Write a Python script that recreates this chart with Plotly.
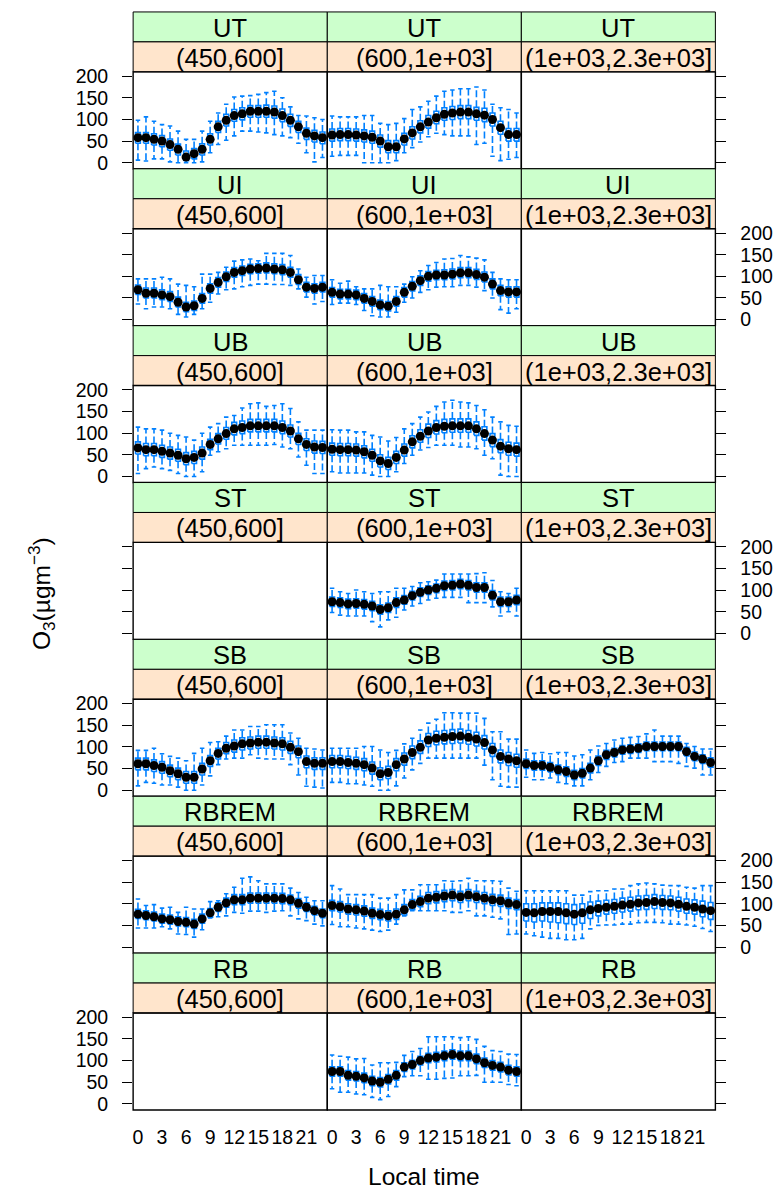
import plotly.graph_objects as go

W, H = 783, 1196

HOURS = list(range(24))
ROW_LABELS = ["UT", "UI", "UB", "ST", "SB", "RBREM", "RB"]
COL_LABELS = ["(450,600]", "(600,1e+03]", "(1e+03,2.3e+03]"]
XTICKS = [0, 3, 6, 9, 12, 15, 18, 21]
XTICK_TEXT = ["0", "3", "6", "9", "12", "15", "18", "21"]
YTICKS = [0, 50, 100, 150, 200]
YTICK_TEXT = ["0", "50", "100", "150", "200"]

# ---- UT ----
UT_450_lo = [6, 4, 9, 9, 2, 0, 0, 0, 2, 23, 42, 52, 62, 73, 73, 71, 69, 65, 62, 58, 45, 23, 2, 12]
UT_450_q1 = [45, 45, 41, 37, 29, 18, 5, 9, 18, 41, 70, 85, 96, 99, 105, 105, 105, 103, 95, 84, 70, 54, 48, 44]
UT_450_med = [58, 58, 54, 50, 42, 31, 13, 21, 31, 54, 83, 98, 109, 113, 119, 119, 119, 117, 109, 98, 83, 68, 62, 58]
UT_450_q3 = [70, 70, 67, 63, 55, 43, 27, 33, 44, 67, 96, 112, 123, 127, 132, 132, 133, 131, 124, 112, 96, 80, 75, 71]
UT_450_hi = [98, 106, 96, 88, 85, 73, 54, 54, 73, 96, 115, 135, 152, 154, 155, 158, 162, 165, 150, 129, 109, 108, 104, 100]

UT_600_lo = [15, 17, 17, 17, 0, 0, 0, 0, 5, 23, 35, 48, 60, 68, 65, 62, 62, 62, 42, 45, 15, 5, 8, 12]
UT_600_q1 = [50, 51, 51, 50, 48, 45, 36, 23, 23, 41, 55, 69, 80, 90, 98, 100, 102, 102, 98, 95, 85, 66, 50, 50]
UT_600_med = [64, 65, 65, 64, 62, 59, 50, 37, 37, 55, 69, 83, 94, 104, 112, 115, 117, 117, 113, 110, 100, 81, 65, 65]
UT_600_q3 = [78, 79, 79, 78, 76, 73, 64, 51, 51, 68, 83, 97, 109, 119, 127, 130, 132, 132, 128, 126, 115, 96, 79, 79]
UT_600_hi = [108, 106, 106, 106, 109, 109, 91, 88, 91, 102, 123, 129, 142, 154, 165, 168, 171, 171, 175, 168, 135, 127, 123, 115]

# ---- UI ----
UI_450_lo = [36, 25, 29, 29, 25, 12, 6, 12, 25, 40, 59, 69, 71, 76, 79, 82, 82, 81, 81, 79, 71, 52, 36, 42]
UI_450_q1 = [58, 50, 50, 46, 42, 29, 18, 21, 38, 61, 75, 88, 98, 102, 106, 107, 108, 106, 104, 98, 81, 64, 61, 64]
UI_450_med = [69, 61, 61, 57, 53, 40, 29, 32, 49, 72, 86, 99, 109, 113, 117, 118, 119, 117, 115, 109, 92, 75, 72, 75]
UI_450_q3 = [80, 73, 73, 69, 65, 52, 40, 43, 60, 83, 97, 110, 120, 124, 128, 129, 131, 129, 127, 121, 104, 86, 83, 86]
UI_450_hi = [94, 94, 94, 98, 94, 82, 79, 76, 105, 105, 109, 121, 135, 138, 140, 136, 153, 153, 153, 148, 117, 98, 102, 102]

UI_600_lo = [35, 38, 38, 35, 21, 9, 6, 6, 17, 40, 50, 63, 69, 75, 76, 76, 79, 79, 75, 67, 50, 23, 15, 25]
UI_600_q1 = [52, 48, 48, 46, 38, 31, 23, 20, 31, 52, 66, 79, 89, 92, 92, 94, 97, 97, 93, 87, 71, 55, 52, 52]
UI_600_med = [63, 59, 59, 57, 49, 42, 34, 31, 42, 63, 77, 90, 100, 103, 103, 105, 108, 108, 104, 98, 82, 67, 64, 64]
UI_600_q3 = [74, 70, 70, 68, 60, 53, 45, 42, 53, 74, 88, 101, 111, 114, 115, 117, 120, 120, 116, 110, 94, 79, 76, 76]
UI_600_hi = [92, 84, 89, 76, 71, 71, 79, 76, 76, 82, 99, 113, 125, 132, 140, 141, 148, 145, 142, 138, 109, 94, 92, 92]

# ---- UB ----
UB_450_lo = [7, 18, 22, 18, 14, 7, 0, 0, 11, 49, 57, 64, 72, 72, 72, 72, 72, 74, 68, 64, 45, 26, 7, 7]
UB_450_q1 = [52, 48, 48, 44, 40, 35, 27, 30, 40, 62, 75, 86, 96, 99, 103, 103, 103, 103, 99, 91, 74, 60, 54, 53]
UB_450_med = [66, 62, 62, 58, 54, 49, 41, 44, 54, 74, 87, 99, 110, 113, 117, 117, 117, 117, 113, 105, 87, 74, 68, 67]
UB_450_q3 = [80, 76, 76, 72, 68, 63, 55, 58, 68, 86, 99, 113, 125, 128, 132, 132, 132, 132, 128, 119, 100, 87, 82, 81]
UB_450_hi = [114, 110, 110, 107, 100, 95, 91, 84, 100, 114, 122, 137, 141, 158, 168, 170, 162, 164, 168, 157, 126, 107, 107, 107]

UB_600_lo = [11, 8, 8, 8, 8, 3, 0, 0, 11, 30, 49, 61, 67, 72, 72, 72, 68, 68, 64, 49, 41, 3, 0, 0]
UB_600_q1 = [49, 48, 48, 47, 43, 35, 22, 16, 30, 47, 66, 79, 90, 98, 101, 102, 102, 102, 95, 84, 69, 55, 49, 47]
UB_600_med = [63, 62, 62, 61, 57, 49, 36, 30, 44, 61, 80, 93, 105, 113, 116, 117, 117, 117, 110, 99, 84, 70, 64, 62]
UB_600_q3 = [77, 76, 76, 75, 71, 63, 50, 44, 58, 75, 94, 108, 121, 129, 132, 133, 133, 133, 126, 115, 99, 85, 79, 77]
UB_600_hi = [108, 107, 107, 103, 103, 95, 91, 82, 90, 110, 122, 137, 149, 162, 172, 176, 172, 170, 164, 154, 137, 126, 118, 116]

# ---- ST ----
ST_600_lo = [48, 42, 40, 40, 40, 27, 15, 31, 37, 54, 63, 69, 77, 81, 83, 83, 83, 71, 71, 71, 61, 40, 50, 40]
ST_600_q1 = [62, 60, 57, 58, 56, 52, 44, 48, 60, 67, 77, 85, 90, 94, 99, 100, 103, 100, 95, 95, 77, 62, 62, 66]
ST_600_med = [73, 71, 68, 69, 67, 63, 55, 59, 71, 77, 87, 95, 100, 104, 110, 111, 114, 111, 106, 106, 88, 73, 73, 77]
ST_600_q3 = [84, 82, 79, 80, 78, 74, 66, 70, 82, 87, 97, 105, 110, 114, 121, 122, 125, 122, 117, 117, 99, 84, 84, 88]
ST_600_hi = [104, 96, 92, 100, 96, 92, 96, 96, 104, 104, 108, 117, 119, 123, 137, 137, 137, 137, 138, 140, 122, 96, 92, 104]

# ---- SB ----
SB_450_lo = [10, 18, 16, 12, 12, 7, 0, 0, 12, 33, 59, 72, 74, 74, 82, 74, 72, 72, 72, 59, 35, 9, 7, 5]
SB_450_q1 = [47, 47, 43, 39, 31, 24, 16, 16, 35, 55, 72, 84, 88, 93, 95, 97, 97, 95, 93, 85, 75, 52, 48, 48]
SB_450_med = [61, 61, 57, 53, 45, 38, 30, 30, 49, 68, 85, 97, 102, 107, 109, 111, 111, 109, 107, 99, 89, 66, 62, 62]
SB_450_q3 = [74, 74, 70, 66, 58, 51, 43, 43, 62, 80, 97, 110, 116, 121, 123, 125, 125, 123, 121, 113, 102, 79, 75, 75]
SB_450_hi = [92, 92, 97, 84, 78, 74, 68, 85, 97, 110, 112, 125, 139, 139, 147, 147, 151, 151, 151, 132, 120, 97, 95, 93]

SB_600_lo = [18, 18, 15, 15, 12, 9, 0, 0, 10, 28, 47, 62, 74, 74, 74, 74, 74, 74, 74, 58, 24, 9, 7, 7]
SB_600_q1 = [52, 52, 50, 48, 45, 37, 24, 27, 45, 58, 73, 85, 101, 105, 107, 108, 109, 106, 102, 95, 78, 63, 57, 53]
SB_600_med = [66, 66, 64, 62, 59, 51, 38, 41, 59, 72, 87, 99, 116, 120, 122, 124, 125, 122, 118, 110, 93, 78, 72, 68]
SB_600_q3 = [80, 80, 78, 76, 73, 65, 52, 55, 73, 86, 102, 114, 131, 136, 138, 140, 141, 138, 134, 126, 108, 93, 87, 83]
SB_600_hi = [97, 97, 97, 97, 101, 101, 93, 87, 92, 107, 120, 139, 155, 164, 179, 179, 178, 178, 178, 166, 135, 135, 118, 118]

SB_1e3_lo = [30, 24, 24, 28, 18, 15, 10, 10, 24, 41, 55, 64, 66, 74, 74, 74, 66, 66, 66, 62, 55, 51, 35, 35]
SB_1e3_q1 = [50, 46, 46, 42, 36, 32, 24, 28, 40, 57, 71, 77, 83, 85, 87, 91, 91, 91, 91, 91, 79, 68, 62, 53]
SB_1e3_med = [61, 57, 57, 53, 47, 43, 35, 39, 51, 68, 82, 87, 93, 95, 97, 101, 101, 101, 101, 101, 89, 78, 72, 64]
SB_1e3_q3 = [72, 68, 68, 64, 58, 54, 46, 50, 62, 79, 92, 97, 103, 105, 107, 111, 111, 111, 111, 111, 99, 88, 82, 75]
SB_1e3_hi = [93, 85, 87, 84, 87, 87, 79, 82, 93, 102, 108, 116, 120, 122, 124, 130, 139, 125, 125, 125, 108, 101, 95, 95]

# ---- RBREM ----
RBREM_450_lo = [44, 44, 44, 47, 42, 30, 29, 23, 40, 67, 70, 72, 80, 78, 83, 83, 80, 83, 84, 72, 65, 61, 53, 49]
RBREM_450_q1 = [66, 63, 60, 55, 53, 49, 47, 43, 55, 69, 82, 92, 98, 98, 101, 101, 101, 101, 100, 98, 90, 82, 74, 68]
RBREM_450_med = [76, 73, 70, 65, 63, 59, 57, 53, 65, 79, 92, 102, 109, 109, 113, 113, 113, 113, 112, 109, 101, 92, 84, 78]
RBREM_450_q3 = [87, 84, 81, 76, 74, 70, 68, 64, 76, 89, 102, 113, 121, 121, 125, 125, 125, 125, 124, 120, 112, 102, 94, 88]
RBREM_450_hi = [111, 96, 98, 90, 92, 80, 92, 88, 88, 105, 107, 123, 138, 159, 162, 153, 146, 146, 146, 136, 126, 115, 107, 107]

RBREM_600_lo = [52, 47, 47, 44, 42, 39, 36, 39, 53, 72, 84, 84, 84, 84, 84, 80, 80, 84, 72, 72, 69, 65, 29, 30]
RBREM_600_q1 = [84, 81, 76, 74, 71, 66, 63, 60, 64, 74, 86, 93, 100, 102, 105, 107, 103, 107, 103, 100, 96, 94, 89, 86]
RBREM_600_med = [96, 93, 88, 86, 83, 78, 75, 72, 76, 86, 98, 105, 113, 115, 118, 120, 116, 120, 116, 113, 109, 107, 101, 98]
RBREM_600_q3 = [108, 105, 100, 98, 95, 90, 87, 84, 88, 98, 110, 117, 126, 128, 131, 133, 129, 133, 129, 126, 122, 120, 113, 110]
RBREM_600_hi = [142, 134, 121, 121, 121, 121, 113, 113, 121, 132, 132, 144, 144, 144, 153, 152, 153, 159, 153, 153, 153, 152, 136, 129]

RBREM_1e3_lo = [30, 26, 23, 20, 20, 17, 17, 20, 42, 50, 51, 51, 53, 53, 56, 57, 57, 56, 53, 53, 51, 48, 43, 36]
RBREM_1e3_q1 = [60, 58, 60, 58, 56, 54, 52, 55, 66, 72, 76, 78, 81, 83, 86, 87, 89, 87, 86, 83, 78, 76, 70, 64]
RBREM_1e3_med = [80, 79, 82, 82, 82, 79, 76, 79, 86, 89, 92, 94, 97, 99, 102, 103, 105, 103, 102, 99, 94, 92, 88, 84]
RBREM_1e3_q3 = [100, 100, 102, 102, 102, 100, 98, 100, 104, 106, 108, 110, 113, 115, 118, 119, 121, 119, 118, 115, 111, 109, 106, 103]
RBREM_1e3_hi = [130, 130, 130, 130, 130, 130, 120, 120, 128, 130, 130, 134, 134, 142, 146, 148, 146, 143, 142, 142, 138, 136, 142, 142]

# ---- RB ----
RB_600_lo = [35, 27, 27, 23, 21, 15, 10, 17, 40, 63, 65, 65, 57, 57, 59, 60, 65, 65, 66, 50, 50, 50, 45, 42]
RB_600_q1 = [64, 64, 55, 53, 49, 42, 39, 46, 55, 75, 81, 90, 95, 97, 100, 103, 100, 100, 93, 84, 78, 74, 67, 64]
RB_600_med = [75, 75, 66, 64, 60, 53, 50, 57, 66, 85, 91, 100, 106, 108, 111, 114, 111, 111, 104, 95, 89, 85, 78, 75]
RB_600_q3 = [86, 86, 77, 75, 71, 64, 61, 68, 77, 95, 101, 110, 117, 119, 122, 125, 122, 122, 115, 106, 100, 96, 89, 86]
RB_600_hi = [113, 110, 108, 104, 105, 90, 95, 95, 96, 112, 121, 128, 155, 155, 155, 155, 153, 155, 149, 133, 123, 121, 115, 114]

PANELS = {
    (0, 0): (UT_450_lo, UT_450_q1, UT_450_med, UT_450_q3, UT_450_hi),
    (0, 1): (UT_600_lo, UT_600_q1, UT_600_med, UT_600_q3, UT_600_hi),
    (1, 0): (UI_450_lo, UI_450_q1, UI_450_med, UI_450_q3, UI_450_hi),
    (1, 1): (UI_600_lo, UI_600_q1, UI_600_med, UI_600_q3, UI_600_hi),
    (2, 0): (UB_450_lo, UB_450_q1, UB_450_med, UB_450_q3, UB_450_hi),
    (2, 1): (UB_600_lo, UB_600_q1, UB_600_med, UB_600_q3, UB_600_hi),
    (3, 1): (ST_600_lo, ST_600_q1, ST_600_med, ST_600_q3, ST_600_hi),
    (4, 0): (SB_450_lo, SB_450_q1, SB_450_med, SB_450_q3, SB_450_hi),
    (4, 1): (SB_600_lo, SB_600_q1, SB_600_med, SB_600_q3, SB_600_hi),
    (4, 2): (SB_1e3_lo, SB_1e3_q1, SB_1e3_med, SB_1e3_q3, SB_1e3_hi),
    (5, 0): (RBREM_450_lo, RBREM_450_q1, RBREM_450_med, RBREM_450_q3, RBREM_450_hi),
    (5, 1): (RBREM_600_lo, RBREM_600_q1, RBREM_600_med, RBREM_600_q3, RBREM_600_hi),
    (5, 2): (RBREM_1e3_lo, RBREM_1e3_q1, RBREM_1e3_med, RBREM_1e3_q3, RBREM_1e3_hi),
    (6, 1): (RB_600_lo, RB_600_q1, RB_600_med, RB_600_q3, RB_600_hi),
}

# ---- layout geometry (pixels) ----
COL_X = [(132.3, 326.7), (326.7, 521.0), (521.0, 715.3)]
ROW0 = 5.0
ROW_H = 158.45
STRIP_H = 30.25
BLUE = "#0080ff"
GREEN = "#ccffcc"
ORANGE = "#ffe5cc"
FONT = "Liberation Sans, Arial, Helvetica, sans-serif"
BOX_HALF = 0.3
CAP_HALF = 0.28
STRIP_FONT = 25.5
TICK_FONT = 19.5
TITLE_FONT = 24.5


def px(x):
    return x / W


def py(y):
    return 1 - y / H


fig = go.Figure()
shapes = []
annotations = []
layout_axes = {}

for r in range(7):
    top = ROW0 + r * ROW_H
    s1 = (top, top + STRIP_H)
    s2 = (top + STRIP_H, top + 2 * STRIP_H)
    pan = (top + 2 * STRIP_H, top + ROW_H)
    for c in range(3):
        k = r * 3 + c + 1
        xa = "x" if k == 1 else f"x{k}"
        ya = "y" if k == 1 else f"y{k}"
        xkey = "xaxis" if k == 1 else f"xaxis{k}"
        ykey = "yaxis" if k == 1 else f"yaxis{k}"
        x0, x1 = COL_X[c]

        layout_axes[xkey] = dict(
            domain=[px(x0), px(x1)], range=[-0.6, 23.6], anchor=ya,
            showgrid=False, zeroline=False, showline=False,
            tickmode="array", tickvals=XTICKS, ticktext=XTICK_TEXT,
            ticks="", showticklabels=(r == 6), ticklabelstandoff=14,
            tickfont=dict(family=FONT, size=TICK_FONT, color="black"),
        )
        yax = dict(
            domain=[py(pan[1]), py(pan[0])], range=[-14, 210], anchor=xa,
            showgrid=False, zeroline=False, showline=False,
            tickmode="array", tickvals=YTICKS, ticktext=YTICK_TEXT,
            tickfont=dict(family=FONT, size=TICK_FONT, color="black"),
            ticklen=10, tickwidth=1.2, tickcolor="black", ticklabelstandoff=10,
        )
        if c == 0:
            yax.update(side="left", ticks="outside", showticklabels=(r % 2 == 0))
        elif c == 2:
            yax.update(side="right", ticks="outside", showticklabels=(r % 2 == 1))
        else:
            yax.update(ticks="", showticklabels=False)
        layout_axes[ykey] = yax

        # strips
        shapes.append(dict(type="rect", xref="paper", yref="paper",
                           x0=px(x0), x1=px(x1), y0=py(s1[1]), y1=py(s1[0]),
                           fillcolor=GREEN, line=dict(color="black", width=1)))
        shapes.append(dict(type="rect", xref="paper", yref="paper",
                           x0=px(x0), x1=px(x1), y0=py(s2[1]), y1=py(s2[0]),
                           fillcolor=ORANGE, line=dict(color="black", width=1)))
        annotations.append(dict(x=px((x0 + x1) / 2), y=py((s1[0] + s1[1]) / 2 + 1),
                                xref="paper", yref="paper", text=ROW_LABELS[r],
                                showarrow=False, xanchor="center", yanchor="middle",
                                font=dict(family=FONT, size=STRIP_FONT, color="black")))
        annotations.append(dict(x=px((x0 + x1) / 2), y=py((s2[0] + s2[1]) / 2 + 1),
                                xref="paper", yref="paper", text=COL_LABELS[c],
                                showarrow=False, xanchor="center", yanchor="middle",
                                font=dict(family=FONT, size=STRIP_FONT, color="black")))
        # panel border
        shapes.append(dict(type="rect", xref="paper", yref="paper", layer="above",
                           x0=px(x0), x1=px(x1), y0=py(pan[1]), y1=py(pan[0]),
                           fillcolor="rgba(0,0,0,0)", line=dict(color="black", width=1.4)))

        if (r, c) not in PANELS:
            fig.add_trace(go.Scatter(x=[None], y=[None], xaxis=xa, yaxis=ya,
                                     showlegend=False, hoverinfo="skip"))
            continue

        lo, q1, med, q3, hi = PANELS[(r, c)]
        wx, wy, cx, cy, bx, by = [], [], [], [], [], []
        for h, a, b, m, d, e in zip(HOURS, lo, q1, med, q3, hi):
            wx += [h, h, None, h, h, None]
            wy += [d, e, None, b, a, None]
            cx += [h - CAP_HALF, h + CAP_HALF, None, h - CAP_HALF, h + CAP_HALF, None]
            cy += [e, e, None, a, a, None]
            bx += [h - BOX_HALF, h + BOX_HALF, h + BOX_HALF, h - BOX_HALF, h - BOX_HALF, None]
            by += [b, b, d, d, b, None]
        fig.add_trace(go.Scatter(x=wx, y=wy, mode="lines", xaxis=xa, yaxis=ya,
                                 line=dict(color=BLUE, width=1.6, dash="7px,3px"),
                                 showlegend=False, hoverinfo="skip"))
        fig.add_trace(go.Scatter(x=cx, y=cy, mode="lines", xaxis=xa, yaxis=ya,
                                 line=dict(color=BLUE, width=1.6),
                                 showlegend=False, hoverinfo="skip"))
        fig.add_trace(go.Scatter(x=bx, y=by, mode="lines", xaxis=xa, yaxis=ya,
                                 line=dict(color=BLUE, width=1.6),
                                 showlegend=False, hoverinfo="skip"))
        fig.add_trace(go.Scatter(x=HOURS, y=med, mode="markers", xaxis=xa, yaxis=ya,
                                 marker=dict(color="black", size=9, symbol="circle"),
                                 showlegend=False, hoverinfo="skip"))

# axis titles
annotations.append(dict(x=px(424), y=py(1181), xref="paper", yref="paper",
                        text="Local time", showarrow=False,
                        xanchor="center", yanchor="middle",
                        font=dict(family=FONT, size=TITLE_FONT, color="black")))
annotations.append(dict(x=px(40), y=py(592), xref="paper", yref="paper",
                        text="O<sub>3</sub>(µgm<sup>−3</sup>)", showarrow=False,
                        textangle=-90, xanchor="center", yanchor="middle",
                        font=dict(family=FONT, size=TITLE_FONT, color="black")))

fig.update_layout(
    width=W, height=H,
    margin=dict(l=0, r=0, t=0, b=0),
    paper_bgcolor="white", plot_bgcolor="white",
    showlegend=False,
    shapes=shapes, annotations=annotations,
    **layout_axes,
)

fig.write_html("out.html")
